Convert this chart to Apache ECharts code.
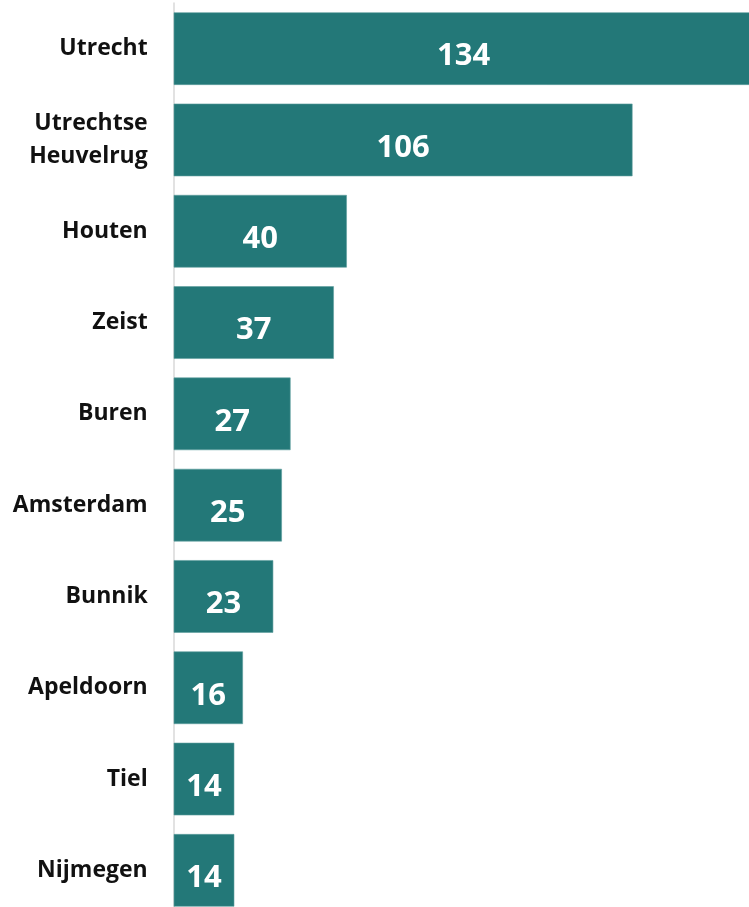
<!DOCTYPE html>
<html><head><meta charset="utf-8">
<script src="https://cdn.jsdelivr.net/npm/echarts@6/dist/echarts.min.js"></script>
<style>html,body{margin:0;padding:0;background:#fff}#c{width:749px;height:907px}</style>
</head><body><div id="c"></div>
<script>
const categories = ['Utrecht','Utrechtse\nHeuvelrug','Houten','Zeist','Buren','Amsterdam','Bunnik','Apeldoorn','Tiel','Nijmegen'];
const values = [134,106,40,37,27,25,23,16,14,14];

const chart = echarts.init(document.getElementById('c'), null, {renderer:'canvas'});
chart.setOption({
  animation:false,
  grid:{left:173.7, top:3, width:580, height:913, outerBoundsMode:'none', containLabel:false},
  xAxis:{type:'value', min:0, max:134, show:false},
  yAxis:{type:'category', data:categories, inverse:true,
    axisLine:{show:true, lineStyle:{color:'#d9d9d9', width:1.5}},
    axisTick:{show:false},
    axisLabel:{margin:26, color:'#111', fontFamily:'Open Sans', fontWeight:'bold', fontSize:23, lineHeight:33, align:'right'}},
  series:[{type:'bar', data:values, barCategoryGap:'20.5%',
    itemStyle:{color:'#237878', borderColor:'#5e9d9d', borderWidth:0.6},
    label:{show:true, position:'inside', offset:[0,8], color:'#fff', fontFamily:'Open Sans', fontWeight:'bold', fontSize:31}
  }]
});
</script></body></html>
